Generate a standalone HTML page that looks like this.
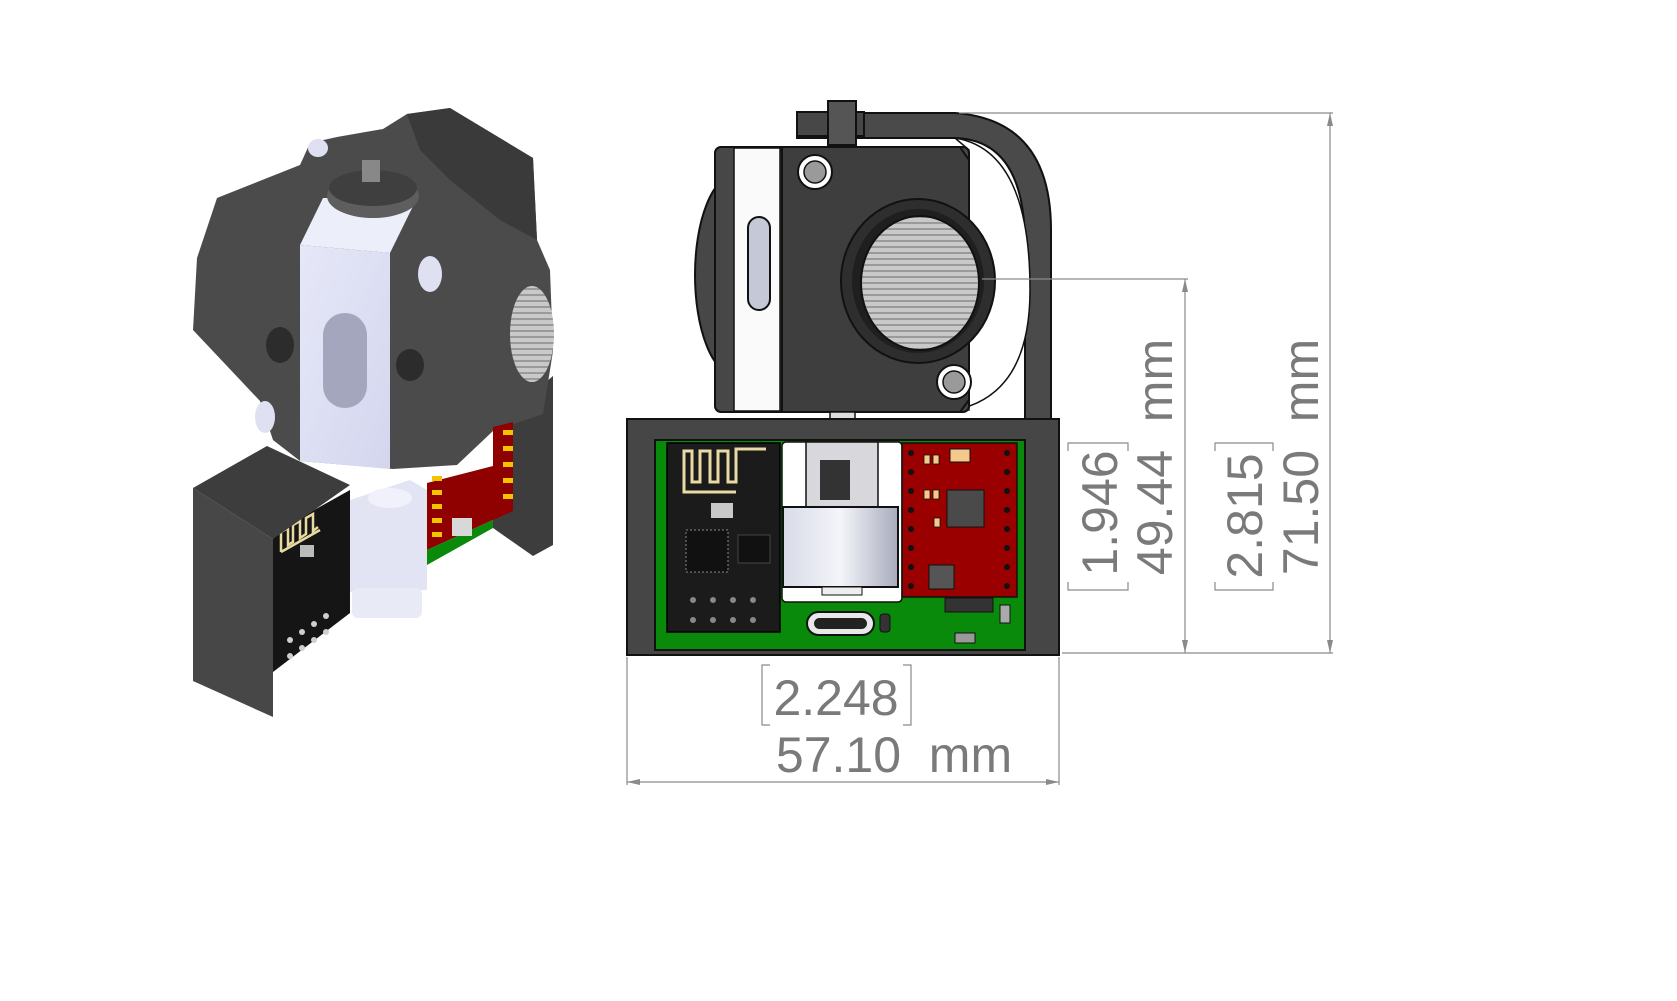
<!DOCTYPE html>
<html><head><meta charset="utf-8"><style>
html,body{margin:0;padding:0;background:#fff;}
svg{display:block}
text{font-family:"Liberation Sans",sans-serif;fill:#7a7a7a;white-space:pre}
</style></head><body>
<svg width="1677" height="1001" viewBox="0 0 1677 1001" xmlns="http://www.w3.org/2000/svg">
<defs>
<linearGradient id="cyl" x1="0" x2="1"><stop offset="0" stop-color="#d8dbe6"/><stop offset="0.5" stop-color="#f4f5fa"/><stop offset="1" stop-color="#a8abbc"/></linearGradient>
<linearGradient id="wb" x1="0" x2="1" y1="0" y2="1"><stop offset="0" stop-color="#e6e8f8"/><stop offset="1" stop-color="#d3d6ee"/></linearGradient>
<pattern id="hatch" width="6" height="6" patternUnits="userSpaceOnUse"><rect width="6" height="6" fill="#c9c9c9"/><rect width="6" height="2" fill="#9a9a9a"/></pattern>
</defs>

<!-- ===== LEFT ISOMETRIC ===== -->
<g stroke="none">
<!-- right back box -->
<polygon points="493,427 553,376 553,545 533,556 493,528" fill="#3d3d3d"/>
<!-- main body -->
<polygon points="217,198 300,165 310,143 337,137 383,129 407,114 450,108 533,158 537,240 550,270 553,351 543,414 493,431 457,465 393,469 300,461 273,440 260,401 193,330 197,258" fill="#4b4b4b"/>
<polygon points="407,114 450,108 533,158 537,240 500,220 450,180 420,150" fill="#3a3a3a"/>
<ellipse cx="532" cy="334" rx="22" ry="48" fill="url(#hatch)"/>
<ellipse cx="280" cy="345" rx="14" ry="18" fill="#2c2c2c"/>
<ellipse cx="410" cy="365" rx="14" ry="16" fill="#2c2c2c"/>
<!-- small white pegs -->
<ellipse cx="430" cy="274" rx="12" ry="18" fill="#dfe1f2"/>
<ellipse cx="265" cy="417" rx="10" ry="16" fill="#dfe1f2"/>
<ellipse cx="318" cy="148" rx="10" ry="9" fill="#dfe1f2"/>
<!-- white block -->
<polygon points="300,245 390,253 390,469 300,461" fill="url(#wb)"/>
<polygon points="300,245 323,198 417,198 390,253" fill="#eceef9"/>
<rect x="323" y="313" width="44" height="95" rx="22" fill="#a3a6bd"/>
<!-- knob -->
<ellipse cx="373" cy="196" rx="46" ry="22" fill="#5e5e5e"/>
<ellipse cx="373" cy="188" rx="44" ry="18" fill="#3f3f3f"/>
<rect x="362" y="160" width="18" height="22" fill="#888"/>
<!-- red board -->
<polygon points="427,483 493,466 493,427 513,422 513,511 493,520 427,550" fill="#8f0000"/>
<polygon points="427,550 493,520 493,528 427,565" fill="#0a8a0a"/>
<g fill="#f2c400">
<rect x="432" y="476" width="10" height="5"/><rect x="432" y="490" width="10" height="5"/><rect x="432" y="504" width="10" height="5"/><rect x="432" y="518" width="10" height="5"/><rect x="432" y="532" width="10" height="5"/>
<rect x="503" y="430" width="10" height="5"/><rect x="503" y="446" width="10" height="5"/><rect x="503" y="462" width="10" height="5"/><rect x="503" y="478" width="10" height="5"/><rect x="503" y="494" width="10" height="5"/>
</g>
<rect x="452" y="518" width="20" height="18" fill="#d8d8d8"/>
<!-- motor -->
<polygon points="350,500 410,480 427,490 427,590 350,592" fill="#e2e4f4"/>
<rect x="352" y="588" width="70" height="30" rx="6" fill="#e8eaf6"/>
<ellipse cx="390" cy="498" rx="22" ry="10" fill="#f0f1fa"/>
<!-- ESP module -->
<polygon points="273,533 350,490 350,613 273,672" fill="#151515"/>
<polyline points="281,552 281,532 288,528 288,545 293,542 293,525 300,521 300,538 306,534 306,518 313,514 313,531 318,527" fill="none" stroke="#e8d9a0" stroke-width="2.5"/>
<polyline points="281,552 320,530" stroke="#e8d9a0" stroke-width="2.5"/>
<rect x="300" y="545" width="14" height="12" fill="#bbb"/>
<g fill="#cfcfcf"><circle cx="290" cy="640" r="3"/><circle cx="302" cy="632" r="3"/><circle cx="314" cy="624" r="3"/><circle cx="326" cy="616" r="3"/><circle cx="290" cy="656" r="3"/><circle cx="302" cy="648" r="3"/><circle cx="314" cy="640" r="3"/><circle cx="326" cy="632" r="3"/></g>
<!-- bottom-left box -->
<polygon points="193,488 273,539 273,717 193,681" fill="#474747"/>
<polygon points="193,488 267,446 350,485 273,539" fill="#3d3d3d"/>
</g>

<!-- ===== RIGHT FRONT VIEW ===== -->
<!-- bracket -->
<path d="M 797 113 L 955 113 Q 1051 120 1051 230 L 1051 419 L 1025 419 L 1025 245 Q 1025 140 955 138 L 797 138 Z" fill="#4a4a4a" stroke="#111" stroke-width="2"/>
<path d="M 955 138 Q 1030 150 1030 290 Q 1030 395 955 410 L 969 410 L 969 150 Z" fill="#fff" stroke="#111" stroke-width="1.5"/>
<!-- left bulge -->
<ellipse cx="735" cy="275" rx="40" ry="100" fill="#474747" stroke="#111" stroke-width="2"/>
<!-- motor body -->
<rect x="715" y="147" width="254" height="265" rx="6" fill="#474747" stroke="#111" stroke-width="2"/>
<rect x="734" y="148" width="46" height="263" fill="#fafafa" stroke="#111" stroke-width="1.5"/>
<rect x="748" y="217" width="22" height="93" rx="11" fill="#c5c8d6" stroke="#111" stroke-width="2"/>
<path d="M 782 147 L 960 147 L 969 160 L 969 400 L 960 412 L 782 412 Z" fill="#3e3e3e" stroke="#111" stroke-width="2"/>
<ellipse cx="918" cy="281" rx="77" ry="82" fill="#2e2e2e" stroke="#111" stroke-width="2"/>
<ellipse cx="918" cy="281" rx="66" ry="72" fill="#1f1f1f"/>
<ellipse cx="920" cy="283" rx="59" ry="67" fill="url(#hatch)" stroke="#111" stroke-width="2"/>
<circle cx="815" cy="172" r="17" fill="#fff" stroke="#111" stroke-width="2"/>
<circle cx="815" cy="172" r="11" fill="#9a9a9a" stroke="#111" stroke-width="1.5"/>
<circle cx="954" cy="382" r="17" fill="#fff" stroke="#111" stroke-width="2"/>
<circle cx="954" cy="382" r="11" fill="#9a9a9a" stroke="#111" stroke-width="1.5"/>
<!-- knob -->
<rect x="797" y="112" width="67" height="24" fill="#474747" stroke="#111" stroke-width="2"/>
<rect x="828" y="101" width="28" height="44" fill="#555" stroke="#111" stroke-width="2"/>
<!-- shaft -->
<rect x="830" y="412" width="25" height="28" fill="#ddd" stroke="#111" stroke-width="1.5"/>
<!-- base box -->
<rect x="627" y="419" width="432" height="236" fill="#464646" stroke="#111" stroke-width="2"/>
<rect x="655" y="440" width="370" height="210" fill="#0a8a0a" stroke="#111" stroke-width="2"/>
<!-- ESP module -->
<rect x="667" y="443" width="113" height="189" fill="#1b1b1b" stroke="#000" stroke-width="1.5"/>
<polyline points="766,449 736,449 736,482 728,482 728,451 718,451 718,482 710,482 710,451 700,451 700,482 692,482 692,451 684,451 684,492 736,492" fill="none" stroke="#e9d9a2" stroke-width="3"/>
<rect x="711" y="503" width="22" height="15" fill="#c8c8c8"/>
<rect x="686" y="530" width="42" height="42" fill="#111" stroke="#888" stroke-width="1" stroke-dasharray="2 2"/>
<rect x="738" y="535" width="32" height="28" fill="#111" stroke="#444"/>
<g fill="#888"><circle cx="693" cy="600" r="3"/><circle cx="713" cy="600" r="3"/><circle cx="733" cy="600" r="3"/><circle cx="753" cy="600" r="3"/><circle cx="693" cy="620" r="3"/><circle cx="713" cy="620" r="3"/><circle cx="733" cy="620" r="3"/><circle cx="753" cy="620" r="3"/></g>
<!-- middle white + motor -->
<rect x="782" y="442" width="120" height="160" rx="4" fill="#fff" stroke="#111" stroke-width="1.5"/>
<rect x="806" y="442" width="72" height="65" fill="#d8d8dc" stroke="#111" stroke-width="1.5"/>
<rect x="820" y="460" width="30" height="40" fill="#333"/>
<rect x="783" y="507" width="115" height="80" fill="url(#cyl)" stroke="#111" stroke-width="2"/>
<rect x="822" y="587" width="40" height="8" fill="#eee" stroke="#111"/>
<!-- red driver -->
<rect x="902" y="443" width="115" height="154" fill="#9b0000" stroke="#111" stroke-width="1.5"/>
<rect x="947" y="490" width="37" height="37" fill="#4a4a4a" stroke="#111"/>
<rect x="950" y="449" width="20" height="13" fill="#f4c98a" stroke="#111"/>
<rect x="929" y="565" width="25" height="24" fill="#555" stroke="#111"/>
<g fill="#111"><circle cx="911" cy="453" r="3"/><circle cx="911" cy="472" r="3"/><circle cx="911" cy="491" r="3"/><circle cx="911" cy="510" r="3"/><circle cx="911" cy="529" r="3"/><circle cx="911" cy="548" r="3"/><circle cx="911" cy="567" r="3"/><circle cx="911" cy="586" r="3"/><circle cx="1007" cy="453" r="3"/><circle cx="1007" cy="472" r="3"/><circle cx="1007" cy="491" r="3"/><circle cx="1007" cy="510" r="3"/><circle cx="1007" cy="529" r="3"/><circle cx="1007" cy="548" r="3"/><circle cx="1007" cy="567" r="3"/><circle cx="1007" cy="586" r="3"/></g>
<g fill="#f4c98a" stroke="#111" stroke-width="0.8"><rect x="924" y="455" width="6" height="9"/><rect x="933" y="455" width="6" height="9"/><rect x="924" y="490" width="6" height="9"/><rect x="933" y="490" width="6" height="9"/><rect x="934" y="518" width="6" height="9"/></g>
<rect x="945" y="598" width="48" height="14" fill="#333" stroke="#111"/>
<rect x="1000" y="605" width="10" height="18" fill="#aaa" stroke="#111"/>
<rect x="955" y="633" width="20" height="10" fill="#999" stroke="#111"/>
<!-- USB-C -->
<rect x="807" y="612" width="67" height="23" rx="11.5" fill="#e8e8e8" stroke="#111" stroke-width="2"/>
<rect x="814" y="618" width="53" height="11" rx="5.5" fill="#222"/>
<rect x="880" y="614" width="10" height="18" rx="3" fill="#333" stroke="#111"/>

<!-- ===== DIMENSIONS ===== -->
<g stroke="#8a8a8a" stroke-width="1.2" fill="none">
<line x1="627" y1="657" x2="627" y2="785"/>
<line x1="1059" y1="657" x2="1059" y2="785"/>
<line x1="627" y1="782" x2="1059" y2="782"/>
<line x1="959" y1="113" x2="1333" y2="113"/>
<line x1="1062" y1="653" x2="1333" y2="653"/>
<line x1="1330" y1="113" x2="1330" y2="653"/>
<line x1="982" y1="279" x2="1188" y2="279"/>
<line x1="1185" y1="279" x2="1185" y2="653"/>
<!-- brackets -->
<polyline points="770,665 762,665 762,725 770,725"/>
<polyline points="903,665 911,665 911,725 903,725"/>
<polyline points="1068,451 1068,443 1128,443 1128,451"/>
<polyline points="1068,582 1068,590 1128,590 1128,582"/>
<polyline points="1215,451 1215,443 1273,443 1273,451"/>
<polyline points="1215,582 1215,590 1273,590 1273,582"/>
</g>
<g fill="#8a8a8a">
<polygon points="627,782 640,779 640,785"/><polygon points="1059,782 1046,779 1046,785"/>
<polygon points="1330,113 1327,126 1333,126"/><polygon points="1330,653 1327,640 1333,640"/>
<polygon points="1185,279 1182,292 1188,292"/><polygon points="1185,653 1182,640 1188,640"/>
</g>
<text x="836" y="715" font-size="50" text-anchor="middle">2.248</text>
<text x="894" y="772" font-size="50" text-anchor="middle">57.10  mm</text>
<text transform="translate(1117,513) rotate(-90)" font-size="50" text-anchor="middle">1.946</text>
<text transform="translate(1172,457) rotate(-90)" font-size="50" text-anchor="middle">49.44  mm</text>
<text transform="translate(1262,516) rotate(-90)" font-size="50" text-anchor="middle">2.815</text>
<text transform="translate(1318,457) rotate(-90)" font-size="50" text-anchor="middle">71.50  mm</text>
</svg>
</body></html>
